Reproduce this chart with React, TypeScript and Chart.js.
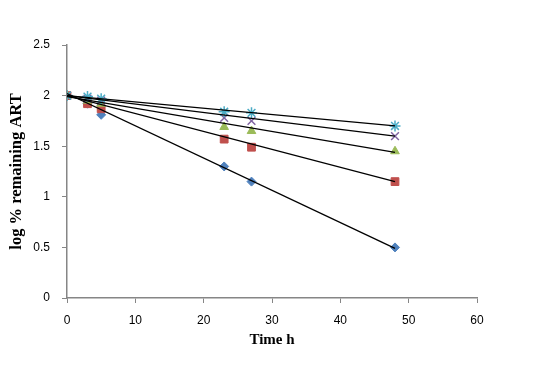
import React, { useEffect, useRef } from "react";
import { Chart, registerables } from "chart.js";

Chart.register(...registerables);

const timesH = [0, 3, 5, 23, 27, 48];
const seriesBlue = [2.0, 1.92, 1.81, 1.3, 1.15, 0.5];
const seriesRed = [2.0, 1.92, 1.87, 1.57, 1.49, 1.15];
const seriesGreen = [2.0, 1.95, 1.92, 1.69, 1.65, 1.45];
const seriesPurple = [2.0, 1.97, 1.95, 1.78, 1.75, 1.6];
const seriesCyan = [2.0, 1.99, 1.97, 1.84, 1.83, 1.7];

const trendX = [0, 48];
const trendBlue = [2.02, 0.49];
const trendRed = [2.0, 1.15];
const trendGreen = [1.99, 1.44];
const trendPurple = [2.0, 1.6];
const trendCyan = [2.0, 1.7];

const xTicks = [0, 10, 20, 30, 40, 50, 60];
const yTicks = [0, 0.5, 1, 1.5, 2, 2.5];

const toPts = (xs: number[], ys: number[]) => xs.map((x, i) => ({ x, y: ys[i] }));

export default function App() {
  const ref = useRef<HTMLCanvasElement | null>(null);
  useEffect(() => {
    if (!ref.current) return;
    const axisColor = "#868686";
    const tickFont = { family: "'Liberation Sans', Arial, sans-serif", size: 12 };
    const titleFont = { family: "'Liberation Serif', 'Times New Roman', serif", size: 15, weight: "bold" as const };
    const yTitleFont = { family: "'Liberation Serif', 'Times New Roman', serif", size: 16.5, weight: "bold" as const };
    const markerSet = (label: string, ys: number[], color: string, style: string, r: number, order: number) => ({
      type: "scatter" as const,
      label,
      data: toPts(timesH, ys),
      pointStyle: style,
      pointRadius: r,
      pointHoverRadius: r,
      backgroundColor: color,
      borderColor: color,
      pointBorderWidth: style === "crossRot" || style === "star" ? 1.5 : 1,
      showLine: false,
      order,
    });
    const trendSet = (ys: number[]) => ({
      type: "line" as const,
      label: "trend",
      data: toPts(trendX, ys),
      borderColor: "#000000",
      borderWidth: 1.3,
      pointRadius: 0,
      fill: false,
      tension: 0,
      order: 0,
    });
    const chart = new Chart(ref.current, {
      type: "scatter",
      data: {
        datasets: [
          trendSet(trendBlue),
          trendSet(trendRed),
          trendSet(trendGreen),
          trendSet(trendPurple),
          trendSet(trendCyan),
          markerSet("Cyan", seriesCyan, "#4BACC6", "star", 5.5, 1),
          markerSet("Purple", seriesPurple, "#8064A2", "crossRot", 5.5, 2),
          markerSet("Green", seriesGreen, "#9BBB59", "triangle", 5, 3),
          markerSet("Red", seriesRed, "#C0504D", "rect", 5.5, 4),
          markerSet("Blue", seriesBlue, "#4F81BD", "rectRot", 4.5, 5),
        ] as any,
      },
      options: {
        animation: false,
        responsive: false,
        maintainAspectRatio: false,
        layout: { padding: { left: 0, right: 66, top: 45, bottom: 0 } },
        plugins: { legend: { display: false }, tooltip: { enabled: false } },
        scales: {
          x: {
            type: "linear",
            min: 0,
            max: 60,
            afterBuildTicks: (s: any) => {
              s.ticks = xTicks.map((v) => ({ value: v }));
            },
            afterFit: (s: any) => {
              s.height = 68;
            },
            ticks: { color: "#000", font: tickFont, padding: 10, maxRotation: 0, callback: (v: any) => String(v) },
            grid: { drawOnChartArea: false, drawTicks: true, tickLength: 5, color: axisColor },
            border: { display: true, color: axisColor, width: 1.5 },
            title: { display: true, text: "Time h", color: "#000", font: titleFont, padding: { top: 0, bottom: 17 } },
          },
          y: {
            type: "linear",
            min: 0,
            max: 2.5,
            afterBuildTicks: (s: any) => {
              s.ticks = yTicks.map((v) => ({ value: v }));
            },
            afterFit: (s: any) => {
              s.width = 67;
            },
            ticks: { color: "#000", font: tickFont, padding: 12, callback: (v: any) => String(v) },
            grid: { drawOnChartArea: false, drawTicks: true, tickLength: 5, color: axisColor },
            border: { display: true, color: axisColor, width: 1.5 },
            title: { display: true, text: "log % remaining ART", color: "#000", font: yTitleFont, padding: { top: 7, bottom: 0 } },
          },
        },
      } as any,
    });
    return () => chart.destroy();
  }, []);
  return (
    <div style={{ position: "fixed", left: 0, top: 0, width: 543, height: 366, background: "#fff" }}>
      <canvas ref={ref} width={543} height={366} style={{ width: 543, height: 366, display: "block" }} />
    </div>
  );
}
